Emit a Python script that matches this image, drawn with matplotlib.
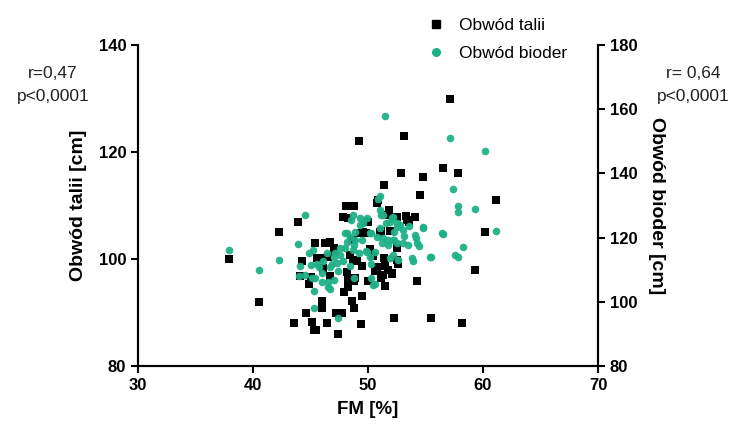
import numpy as np
import matplotlib
matplotlib.use('Agg')
import matplotlib.pyplot as plt
from matplotlib.lines import Line2D

plt.rcParams['font.family'] = ['Liberation Sans', 'DejaVu Sans']

# waist circumference (left axis) vs FM
fm_waist = [37.9, 40.5, 42.3, 43.9, 43.6, 44.6, 44.3, 45.1, 45.3, 45.5, 46.4, 46.0, 46.0,
            45.4, 46.4, 45.6, 46.1, 46.7, 47.4, 47.2, 47.7, 47.9, 48.1, 48.8, 48.3, 48.6,
            48.8, 49.4, 49.5, 49.2, 48.8, 48.6, 49.8, 50.0, 50.2, 50.6, 50.9, 51.1, 51.4,
            51.4, 51.5, 51.5, 51.8, 52.1, 52.6, 52.3, 52.9, 53.1, 53.3, 53.6, 54.5, 54.3,
            54.8, 55.5, 56.5, 57.1, 57.8, 58.2, 59.3, 60.2, 61.1, 50.0, 49.5, 49.0, 51.1,
            51.9, 52.5, 44.9, 44.1, 47.0, 50.4, 48.2,
            47.8, 48.3, 50.0, 51.0, 51.7, 52.5, 46.3, 46.7, 47.0, 49.3, 49.6, 45.8,
            46.5, 48.4, 48.7, 50.8, 51.3, 51.7, 52.6, 48.3, 48.9, 45.0, 50.8, 53.4,
            54.1, 52.5, 52.1]
waist = [100, 92, 105, 107, 88, 90, 99.7, 88.2, 86.7, 86.8, 88, 92.1, 90.9,
         103, 103, 100.2, 98.4, 96.8, 86, 90, 90, 93.8, 110, 110, 94.7, 92.1,
         90.8, 87.9, 93.1, 122, 95.9, 103.6, 104.8, 107, 101.8, 97.8, 111, 105.2, 113.9,
         100.2, 98.7, 95, 109.2, 97.2, 99, 89, 116, 123, 108, 107, 112, 95.9,
         115.3, 89, 117, 130, 116, 88, 98, 105, 111, 95.8, 98.7, 99.6, 96.5,
         105.2, 102.1, 95.3, 96.8, 101.5, 100.5, 97.5,
         107.9, 107.7, 106.9, 105, 108.2, 107.9, 103, 103.2, 102, 104.9, 105, 100.2,
         100.4, 100.7, 99.8, 98.5, 97, 98, 99.3, 96, 96.4, 96.6, 110.5, 107.3,
         107.9, 99.8, 97.4]

# hip circumference (right axis) vs FM
fm_hip = [37.9, 40.5, 42.3, 44.5, 43.9, 44.0, 44.1, 44.9, 45.1, 45.3, 45.3, 45.6, 46.1,
          46.5, 46.7, 46.9, 47.1, 47.4, 47.4, 47.8, 48.0, 48.2, 48.4, 48.5, 48.8, 48.9,
          49.2, 49.3, 49.5, 49.8, 49.9, 50.2, 50.3, 50.6, 50.9, 51.0, 51.1, 51.3, 51.5,
          51.6, 51.7, 51.9, 52.1, 52.3, 52.5, 52.8, 53.1, 53.5, 53.6, 53.9, 54.2, 54.4,
          54.8, 55.5, 56.5, 57.1, 57.4, 57.8, 57.8, 57.8, 58.3, 59.3, 60.2, 61.1, 51.0,
          48.8, 46.0, 47.6,
          48.7, 49.3, 49.6, 51.0, 51.3, 51.9, 52.5, 53.0, 48.0, 48.4, 48.9, 48.2,
          50.3, 50.8, 51.2, 51.7, 52.2, 45.2, 46.4, 47.0, 47.6, 48.7, 49.9, 50.2,
          50.6, 45.0, 45.7, 46.7, 47.3, 44.5, 45.4, 46.0, 46.5, 47.0, 50.3, 50.4,
          52.2, 52.5, 54.8, 54.1, 54.3, 56.4, 52.3, 53.0, 57.6, 55.4, 53.8, 52.2, 52.6]
hip = [116, 110, 113, 127, 118, 108, 111, 115.3, 107.3, 103.4, 98, 111.7, 112.7,
       106.3, 104, 111.7, 115.3, 95, 109.6, 112.7, 116.8, 121.4, 111.1, 125.5, 117.8, 121.9,
       115.3, 124, 119.4, 115.8, 126, 121.4, 111.7, 105.5, 132, 123, 127, 120, 158,
       124.5, 117.8, 113.7, 126, 121.9, 118.3, 124, 120.4, 117.8, 123.5, 112.7, 119.9, 117.3,
       123, 114, 121, 151, 135, 130, 128, 114, 117, 129, 147, 122, 133,
       107.3, 109, 114.5,
       127, 126.1, 124.5, 128.6, 127, 124.9, 123.3, 122.4, 121.4, 120.2, 119.3, 118.6,
       121.4, 120.2, 118.3, 119.3, 119.3, 116.1, 115.2, 113.9, 116.8, 116.1, 115.5, 113.9,
       115.5, 111.5, 110.8, 110.8, 112.1, 108.3, 107.4, 106.2, 104.6, 106.8, 107.4, 105.2,
       126.4, 124.5, 123.3, 120.8, 118.3, 121.4, 119.3, 118.3, 114.6, 113.9, 113.6, 114.6, 113]

xticks = [30, 40, 50, 60, 70]
left_ticks = [80, 100, 120, 140]
right_ticks = [80, 100, 120, 140, 160, 180]

green = '#1fb088'

fig = plt.figure(figsize=(7.44, 4.28), dpi=100)
ax = fig.add_axes([138 / 744, 1 - 366 / 428, (598 - 138) / 744, (366 - 45) / 428])
ax2 = ax.twinx()

ax.scatter(fm_waist, waist, marker='s', s=38, color='black', linewidths=0, zorder=3)
ax2.scatter(fm_hip, hip, marker='o', s=30, color=green, linewidths=0, alpha=0.95, zorder=4)

ax.set_xlim(30, 70)
ax.set_ylim(80, 140)
ax2.set_ylim(80, 180)
ax.set_xticks(xticks)
ax.set_yticks(left_ticks)
ax2.set_yticks(right_ticks)

for a in (ax, ax2):
    a.spines['top'].set_visible(False)
    for s in ('left', 'right', 'bottom'):
        a.spines[s].set_linewidth(1.5)
    a.tick_params(width=1.5, length=5, labelsize=12)
    for lab in a.get_xticklabels() + a.get_yticklabels():
        lab.set_fontweight('bold')

ax.set_xlabel('FM [%]', fontsize=13.5, fontweight='bold', labelpad=6)
ax.set_ylabel('Obwód talii [cm]', fontsize=14, fontweight='bold', labelpad=8)
ax2.set_ylabel('Obwód bioder [cm]', fontsize=14, fontweight='bold', rotation=270, labelpad=20)

fig.text(53 / 744, 1 - 73 / 428, 'r=0,47', ha='center', va='center', fontsize=12.5, color='#222222')
fig.text(53 / 744, 1 - 96 / 428, 'p<0,0001', ha='center', va='center', fontsize=12.5, color='#222222')
fig.text(693 / 744, 1 - 73 / 428, 'r= 0,64', ha='center', va='center', fontsize=12.5, color='#222222')
fig.text(693 / 744, 1 - 96 / 428, 'p<0,0001', ha='center', va='center', fontsize=12.5, color='#222222')

handles = [Line2D([], [], marker='s', color='black', linestyle='none', markersize=6),
           Line2D([], [], marker='o', color=green, linestyle='none', markersize=5.5)]
fig.legend(handles, ['Obwód talii', 'Obwód bioder'], loc='upper left',
           bbox_to_anchor=(410 / 744, 1 - 2 / 428), frameon=False, fontsize=12.5,
           handletextpad=0.7, labelspacing=0.75, handlelength=1.2)

fig.savefig('out.png', dpi=100)
